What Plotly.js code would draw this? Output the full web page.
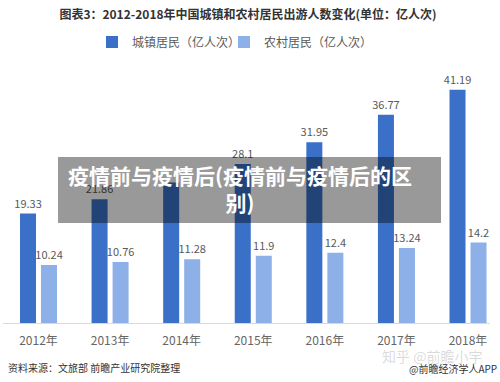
<!DOCTYPE html>
<html>
<head>
<meta charset="utf-8">
<script src="https://cdn.plot.ly/plotly-3.0.1.min.js"></script>
<style>html,body{margin:0;padding:0;background:#fff;}#chart{width:500px;height:382px;}</style>
</head>
<body>
<div id="chart"></div>
<script>
var years = ["2012年","2013年","2014年","2015年","2016年","2017年","2018年"];
var urban = [19.33, 21.86, 24.83, 28.1, 31.95, 36.77, 41.19];
var rural = [10.24, 10.76, 11.28, 11.9, 12.4, 13.24, 14.2];
var urbanName = "城镇居民（亿人次）";
var ruralName = "农村居民（亿人次）";
var titleText = "<b>图表3：2012-2018年中国城镇和农村居民出游人数变化(单位：亿人次)</b>";
var sourceText = "资料来源：文旅部 前瞻产业研究院整理";
var overlayText = "疫情前与疫情后(疫情前与疫情后的区<br>别)";

var idx = years.map(function(_, i){ return i; });
var font = "'Noto Sans CJK SC', 'Microsoft YaHei', sans-serif";

var traces = [
  {type:"bar", name:urbanName, x:idx, y:urban, marker:{color:"#3a70c8"}, legend:"legend",
   text:urban.map(function(v, i){ return i === 2 ? "" : String(v); }), textposition:"outside",
   cliponaxis:false, constraintext:"none",
   textfont:{size:11, color:"#595959", family:font}, hoverinfo:"none"},
  {type:"bar", name:ruralName, x:idx, y:rural, marker:{color:"#8eb0e8"}, legend:"legend2",
   text:rural.map(String), textposition:"outside", cliponaxis:false, constraintext:"none",
   textfont:{size:11, color:"#595959", family:font}, hoverinfo:"none"}
];

var legendBase = {orientation:"h", xanchor:"left", y:(323-42)/243, yanchor:"middle",
  font:{size:12, color:"#595959", family:font}, itemwidth:30, bgcolor:"rgba(0,0,0,0)"};

var layout = {
  width:500, height:382,
  margin:{l:3, r:10, t:80, b:59},
  paper_bgcolor:"#fff", plot_bgcolor:"#fff",
  font:{family:font, color:"#595959"},
  title:{text:titleText, x:0.496, xanchor:"center", y:0.962, yanchor:"middle",
         font:{size:12, color:"#333", family:font}},
  barmode:"group", bargap:0.413, bargroupgap:0.238,
  showlegend:true,
  legend:Object.assign({}, legendBase, {x:(92-3)/487}),
  legend2:Object.assign({}, legendBase, {x:(224-3)/487}),
  xaxis:{tickmode:"array", tickvals:idx, ticktext:years, range:[-0.496, 6.307],
         showline:true, linecolor:"#d9d9d9", linewidth:1, ticks:"", showgrid:false, zeroline:false,
         ticklabelstandoff:7,
         tickfont:{size:12, color:"#666", family:font}, fixedrange:true},
  yaxis:{range:[0, 42.93], visible:false, showgrid:false, zeroline:false, fixedrange:true},
  shapes:[
    {type:"rect", xref:"paper", yref:"paper", x0:(58-3)/487, x1:(441-3)/487,
     y0:(323-223)/243, y1:(323-157)/243, fillcolor:"rgba(0,0,0,0.4)", line:{width:0}, layer:"above"}
  ],
  annotations:[
    {text:"<b>"+overlayText+"</b>", xref:"paper", yref:"paper", x:(240-3)/487, y:(323-188)/243,
     xanchor:"center", yanchor:"middle", showarrow:false, align:"center",
     font:{size:21, color:"#fff", family:font}},
    {text:sourceText, xref:"paper", yref:"paper", x:(6-3)/487, y:-(367-323)/243,
     xanchor:"left", yanchor:"middle", showarrow:false, font:{size:10, color:"#333", family:font}},
    {text:"知乎 @前瞻小宇", xref:"paper", yref:"paper", x:(380-3)/487, y:-(356-323)/243,
     xanchor:"left", yanchor:"middle", showarrow:false, font:{size:14, color:"rgba(150,150,150,0.35)", family:font}},
    {text:"@前瞻经济学人APP", xref:"paper", yref:"paper", x:(499-3)/487, y:-(368-323)/243,
     xanchor:"right", yanchor:"middle", showarrow:false, font:{size:10, color:"#333", family:font}}
  ]
};

Plotly.newPlot("chart", traces, layout, {displayModeBar:false, staticPlot:true});
</script>
</body>
</html>
